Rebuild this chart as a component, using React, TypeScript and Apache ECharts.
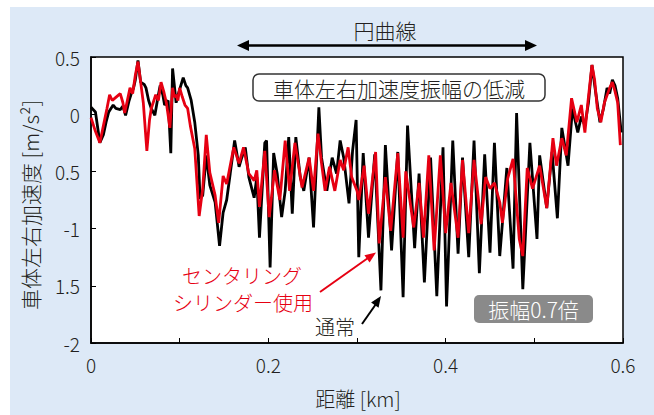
import React, { useEffect, useRef } from "react";
import * as echarts from "echarts";

// distance in metres, lateral acceleration in m/s^2
const normalDist = [0, 5, 10, 14, 17, 20, 25, 28, 33, 36, 39, 43, 45, 48, 50, 53, 56, 60, 62, 65, 68, 72, 76, 78, 81, 83, 87, 90, 92, 96, 99, 104, 107, 109, 113, 117, 121, 123, 126, 130, 134, 140, 145, 149, 153, 157, 162, 167, 170, 174, 178, 184, 187, 190, 196, 198, 202, 206, 210, 215, 219, 223, 227, 231, 236, 240, 246, 251, 257, 260, 266, 272, 277, 281, 285, 291, 295, 299, 302, 307, 313, 320, 327, 332, 339, 346, 352, 357, 365, 370, 376, 383, 390, 397, 401, 408, 414, 419, 426, 432, 438, 444, 450, 455, 461, 469, 476, 480, 487, 495, 503, 506, 514, 520, 526, 531, 538, 543, 549, 553, 557, 561, 565, 569, 574, 578, 582, 585, 588, 591, 594, 598];
const normalAcc = [0.06, 0.02, -0.25, -0.18, -0.07, 0.02, 0.08, 0.05, 0.04, 0.07, -0.01, 0.12, 0.17, 0.23, 0.3, 0.47, 0.28, 0.26, 0.23, 0.12, 0.05, -0.01, 0.17, 0.25, 0.17, 0.08, 0.12, -0.34, 0.4, 0.1, 0.19, 0.32, 0.25, 0.23, 0.12, -0.07, -0.36, -0.74, -0.71, -0.36, -0.62, -0.77, -1.15, -0.86, -0.75, -0.52, -0.23, -0.46, -0.38, -0.29, -0.55, -0.73, -0.55, -1.08, -0.25, -0.23, -1.34, -0.34, -0.52, -0.9, -0.67, -0.2, -0.87, -0.2, -0.55, -0.67, -0.38, -0.99, 0.06, -0.38, -0.67, -0.38, -0.52, -0.23, -0.38, -0.78, -0.32, -0.05, -1.25, -0.34, -1.08, -0.35, -1.54, -0.27, -1.19, -0.33, -1.6, -0.1, -1.17, -0.52, -1.47, -0.38, -1.59, -0.29, -1.68, -0.23, -1.22, -0.38, -1.25, -0.23, -1.39, -0.35, -1.21, -0.25, -1.24, -0.47, -1.35, 0.01, -1.53, -0.25, -1.09, -0.36, -0.82, -0.33, -0.91, -0.12, -0.45, 0.05, -0.16, -0.02, -0.1, 0.1, 0.43, 0.2, -0.07, 0.05, 0.23, 0.18, 0.3, 0.25, 0.14, -0.16];

const centeringDist = [0, 5, 10, 14, 18, 21, 24, 27, 30, 33, 36, 38, 41, 44, 47, 50, 53, 56, 59, 63, 66, 68, 73, 76, 79, 82, 85, 89, 92, 94, 96, 98, 100, 103, 106, 109, 112, 117, 122, 126, 130, 134, 140, 144, 149, 153, 161, 167, 172, 178, 184, 187, 190, 196, 201, 207, 213, 219, 224, 230, 238, 246, 251, 256, 260, 264, 269, 275, 281, 285, 290, 294, 300, 302, 308, 313, 321, 325, 332, 338, 346, 352, 355, 364, 370, 375, 381, 387, 394, 400, 406, 414, 419, 426, 432, 440, 445, 450, 455, 461, 464, 470, 476, 483, 487, 492, 498, 506, 514, 521, 525, 531, 536, 542, 548, 553, 557, 561, 565, 568, 571, 575, 579, 585, 588, 591, 594, 597];
const centeringAcc = [-0.03, -0.15, -0.25, -0.1, 0.05, 0.17, 0.12, 0.14, 0.16, 0.18, 0.1, 0.01, 0.12, 0.23, 0.18, 0.34, 0.46, 0.28, 0.1, -0.32, -0.05, 0.05, 0.17, 0.12, 0.28, 0.2, 0.1, -0.12, 0.23, 0.15, 0.17, 0.12, 0.23, 0.15, 0.08, 0.05, -0.1, -0.3, -0.89, -0.65, -0.18, -0.51, -0.71, -0.95, -0.54, -0.61, -0.29, -0.43, -0.29, -0.52, -0.58, -0.49, -0.81, -0.32, -0.9, -0.49, -0.75, -0.23, -0.67, -0.25, -0.64, -0.38, -0.67, -0.17, -0.43, -0.67, -0.46, -0.67, -0.4, -0.49, -0.29, -0.55, -0.67, -0.75, -0.45, -0.87, -0.33, -1.13, -0.55, -1.02, -0.34, -1.08, -0.5, -0.99, -0.6, -1.08, -0.36, -1.19, -0.36, -1.04, -0.6, -1.08, -0.4, -1.04, -0.4, -0.96, -0.55, -0.65, -0.6, -0.77, -0.95, -0.56, -0.39, -1.09, -1.24, -0.47, -0.65, -0.45, -0.82, -0.21, -0.45, -0.21, -0.36, 0.14, -0.07, 0.08, -0.16, 0.15, 0.43, 0.3, 0.05, -0.07, 0.1, 0.23, 0.28, 0.2, 0.1, -0.27];

const xTickLabels: Record<string, string> = { "0": "0", "2": "0.2", "4": "0.4", "6": "0.6" };
const yTickLabels: Record<string, string> = { "0.5": "0.5", "0": "0", "-0.5": "0.5", "-1": "-1", "-1.5": "1.5", "-2": "-2" };

const FONT = '"Noto Sans CJK JP", "Noto Sans", sans-serif';
const TXT = "#231f20";
const RED = "#e60012";

export default function App() {
  const ref = useRef<HTMLDivElement>(null);
  useEffect(() => {
    if (!ref.current) return;
    const chart = echarts.init(ref.current, undefined, { renderer: "svg" });
    const normal = normalDist.map((d, i) => [d / 1000, normalAcc[i]]);
    const centering = centeringDist.map((d, i) => [d / 1000, centeringAcc[i]]);

    const arrowHead = (tip: number[], from: number[], len: number, half: number, color: string) => {
      const dx = tip[0] - from[0];
      const dy = tip[1] - from[1];
      const L = Math.hypot(dx, dy);
      const ux = dx / L, uy = dy / L;
      const bx = tip[0] - ux * len, by = tip[1] - uy * len;
      const px = -uy, py = ux;
      return {
        type: "polygon",
        shape: { points: [tip, [bx + px * half, by + py * half], [bx - px * half, by - py * half]] },
        style: { fill: color },
        z: 100,
      };
    };

    chart.setOption({
      animation: false,
      backgroundColor: "#dde9f7",
      textStyle: { fontFamily: FONT },
      grid: {
        left: 81, right: 31, top: 50, bottom: 72,
        show: true, backgroundColor: "#ffffff", borderColor: "#000", borderWidth: 1.5,
      },
      xAxis: {
        type: "value", min: 0, max: 0.6, interval: 0.1,
        axisLine: { show: true, onZero: false, lineStyle: { color: "#000", width: 1.5 } },
        axisTick: { show: true, inside: true, length: 5, lineStyle: { color: "#000" } },
        splitLine: { show: false },
        axisLabel: {
          margin: 12, fontSize: 19, color: TXT, fontFamily: FONT, fontWeight: 300,
          formatter: (v: number) => xTickLabels[String(Math.round(v * 10))] ?? "",
        },
      },
      yAxis: {
        type: "value", min: -2, max: 0.5, interval: 0.5,
        axisLine: { show: true, onZero: false, lineStyle: { color: "#000", width: 1.5 } },
        axisTick: { show: true, inside: true, length: 5, lineStyle: { color: "#000" } },
        splitLine: { show: false },
        axisLabel: {
          margin: 11, fontSize: 19, color: TXT, fontFamily: FONT, fontWeight: 300,
          formatter: (v: number) => yTickLabels[String(Math.round(v * 10) / 10)] ?? "",
        },
      },
      series: [
        {
          name: "通常", type: "line", data: normal, showSymbol: false,
          lineStyle: { color: "#000", width: 2.8 }, z: 2,
        },
        {
          name: "センタリングシリンダー使用", type: "line", data: centering, showSymbol: false,
          lineStyle: { color: RED, width: 2.8 }, z: 3,
        },
      ],
      graphic: [
        {
          type: "text", x: 375, y: 23, z: 100,
          style: { text: "円曲線", fontSize: 21, fontFamily: FONT, fontWeight: 300, fill: TXT, align: "center", verticalAlign: "middle" },
        },
        { type: "line", shape: { x1: 236, y1: 38.5, x2: 518, y2: 38.5 }, style: { stroke: "#000", lineWidth: 2.5 }, z: 100 },
        arrowHead([227, 38.5], [260, 38.5], 12, 5.5, "#000"),
        arrowHead([527, 38.5], [500, 38.5], 12, 5.5, "#000"),
        {
          type: "rect", shape: { x: 243, y: 67, width: 292, height: 27, r: 6 }, z: 100,
          style: { fill: "#fff", stroke: "#333", lineWidth: 1.5 },
        },
        {
          type: "text", x: 389, y: 81, z: 101,
          style: { text: "車体左右加速度振幅の低減", fontSize: 21, fontFamily: FONT, fontWeight: 300, fill: TXT, align: "center", verticalAlign: "middle" },
        },
        {
          type: "text", x: 232, y: 268, z: 100,
          style: { text: "センタリング", fontSize: 20, fontFamily: FONT, fontWeight: 300, fill: RED, align: "center", verticalAlign: "middle" },
        },
        {
          type: "text", x: 233, y: 295, z: 100,
          style: { text: "シリンダー使用", fontSize: 20, fontFamily: FONT, fontWeight: 300, fill: RED, align: "center", verticalAlign: "middle" },
        },
        { type: "line", shape: { x1: 310, y1: 285, x2: 358, y2: 251 }, style: { stroke: RED, lineWidth: 2 }, z: 100 },
        arrowHead([366, 245.5], [310, 285], 11, 4.5, RED),
        {
          type: "text", x: 325, y: 319, z: 100,
          style: { text: "通常", fontSize: 20, fontFamily: FONT, fontWeight: 300, fill: TXT, align: "center", verticalAlign: "middle" },
        },
        { type: "line", shape: { x1: 352, y1: 317, x2: 366, y2: 297 }, style: { stroke: "#000", lineWidth: 2 }, z: 100 },
        arrowHead([371, 289], [352, 317], 11, 4.5, "#000"),
        {
          type: "rect", shape: { x: 464, y: 288, width: 119, height: 28, r: 5 }, z: 100,
          style: { fill: "#8a8a8a" },
        },
        {
          type: "text", x: 523.5, y: 302, z: 101,
          style: { text: "振幅0.7倍", fontSize: 21, fontFamily: FONT, fontWeight: 300, fill: "#fff", align: "center", verticalAlign: "middle" },
        },
        {
          type: "text", x: 20, y: 198, rotation: Math.PI / 2, z: 100,
          style: { text: "車体左右加速度 [m/s²]", fontSize: 21, fontFamily: FONT, fontWeight: 300, fill: TXT, align: "center", verticalAlign: "middle" },
        },
        {
          type: "text", x: 348, y: 391, z: 100,
          style: { text: "距離 [km]", fontSize: 20, fontFamily: FONT, fontWeight: 300, fill: TXT, align: "center", verticalAlign: "middle" },
        },
      ],
    });
    return () => chart.dispose();
  }, []);

  return (
    <div style={{ position: "fixed", left: 0, top: 0, width: 654, height: 415, background: "#ffffff" }}>
      <div ref={ref} style={{ position: "absolute", left: 10, top: 7, width: 644, height: 408 }} />
    </div>
  );
}
